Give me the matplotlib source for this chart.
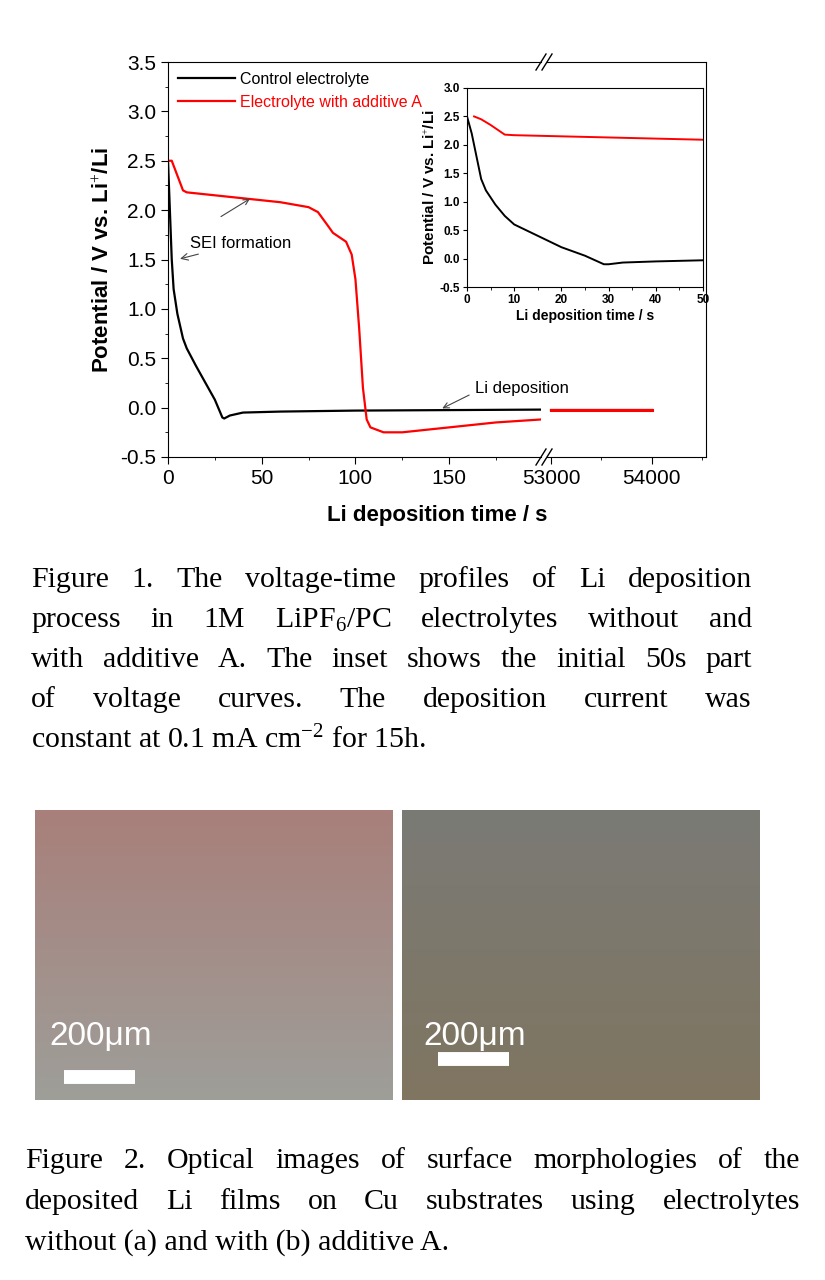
import matplotlib
matplotlib.use("Agg")
import matplotlib.pyplot as plt
import numpy as np

plt.rcParams['font.family'] = ['Liberation Sans', 'DejaVu Sans']
plt.rcParams['mathtext.fontset'] = 'custom'
plt.rcParams['mathtext.rm'] = 'Liberation Serif'
plt.rcParams['mathtext.it'] = 'Liberation Serif:italic'

# main plot data (left segment 0-200 s)
t_ctrl = [0, 1, 2, 3, 5, 8, 10, 15, 20, 25, 29, 30, 33, 40, 60, 100, 150, 199]
v_ctrl = [2.5, 2.0, 1.5, 1.2, 0.95, 0.7, 0.6, 0.42, 0.25, 0.08, -0.1, -0.11, -0.08, -0.05, -0.04, -0.03, -0.025, -0.02]
t_add = [0, 2, 5, 8, 10, 30, 60, 75, 80, 85, 88, 95, 98, 100, 102, 104, 106, 108, 115, 125, 150, 175, 199]
v_add = [2.5, 2.5, 2.35, 2.2, 2.18, 2.14, 2.08, 2.03, 1.98, 1.85, 1.77, 1.68, 1.55, 1.3, 0.8, 0.2, -0.12, -0.2, -0.25, -0.25, -0.2, -0.15, -0.12]
# long-time segment
t_long = [53000, 54000]
v_ctrl_long = [-0.02, -0.02]
v_add_long = [-0.02, -0.02]
# inset data
ti_ctrl = [0, 1, 2, 3, 4, 6, 8, 10, 15, 20, 25, 29, 30, 33, 40, 50]
vi_ctrl = [2.5, 2.2, 1.8, 1.4, 1.2, 0.95, 0.75, 0.6, 0.4, 0.2, 0.05, -0.1, -0.1, -0.07, -0.05, -0.03]
ti_add = [1.5, 3, 5, 8, 10, 20, 30, 40, 50]
vi_add = [2.5, 2.45, 2.35, 2.18, 2.17, 2.15, 2.13, 2.11, 2.09]

W, H = 825, 1280
fig = plt.figure(figsize=(W / 100, H / 100), dpi=100)

def rect(x0, y0, x1, y1):
    return [x0 / W, 1 - y1 / H, (x1 - x0) / W, (y1 - y0) / H]

ax1 = fig.add_axes(rect(168, 62, 541, 457))
ax2 = fig.add_axes(rect(547, 62, 706, 457))
ax2.patch.set_visible(False)
ax1.plot(t_ctrl, v_ctrl, color='black', lw=1.6, label='Control electrolyte')
ax1.plot(t_add, v_add, color='red', lw=1.6, label='Electrolyte with additive A')
ax2.plot(t_long, v_ctrl_long, color='black', lw=1.6)
ax2.plot(t_long, v_add_long, color='red', lw=2.2)
ax1.set_xlim(0, 199)
ax2.set_xlim(52960, 54540)
for ax in (ax1, ax2):
    ax.set_ylim(-0.5, 3.5)
    ax.tick_params(labelsize=15, direction='out', length=5)
    ax.set_yticks(np.arange(-0.5, 3.6, 0.5))
    ax.set_yticks(np.arange(-0.5, 3.6, 0.25), minor=True)
ax1.set_xticks([0, 50, 100, 150])
ax1.set_xticks(np.arange(0, 200, 25), minor=True)
ax2.set_xticks([53000, 54000])
ax2.set_xticks([53500, 54500], minor=True)
ax1.spines['right'].set_visible(False)
ax2.spines['left'].set_visible(False)
ax2.tick_params(axis='y', which='both', left=False, labelleft=False)
ax1.set_yticklabels(['-0.5', '0.0', '0.5', '1.0', '1.5', '2.0', '2.5', '3.0', '3.5'])
# break marks
for x in (541, 547):
    for y in (62, 457):
        fig.lines.append(plt.Line2D([(x - 5) / W, (x + 5) / W], [1 - (y + 8) / H, 1 - (y - 8) / H],
                                    color='black', lw=1, transform=fig.transFigure))
ax1.set_ylabel('Potential / V vs. Li$^{+}$/Li', fontsize=16, fontweight='bold')
fig.text((168 + 706) / 2 / W, 1 - 515 / H, 'Li deposition time / s', fontsize=16,
         fontweight='bold', ha='center', va='center')
leg = ax1.legend(loc='upper left', frameon=False, fontsize=11.5, handlelength=3.6,
                 borderaxespad=0.2, handletextpad=0.3, labelspacing=0.5)
leg.get_texts()[1].set_color('red')

ax1.annotate('SEI formation', xy=(5, 1.5), xytext=(12, 1.62), fontsize=12,
             arrowprops=dict(arrowstyle='->', color='#444444', lw=0.8))
ax1.annotate('', xy=(45, 2.13), xytext=(27, 1.92),
             arrowprops=dict(arrowstyle='->', color='#444444', lw=0.8))
ax1.annotate('', xy=(145, -0.02), xytext=(162, 0.14),
             arrowprops=dict(arrowstyle='->', color='#444444', lw=0.8))
ax1.text(164, 0.15, 'Li deposition', fontsize=12, clip_on=False, zorder=10)

# inset
axi = fig.add_axes(rect(467, 88, 703, 287))
axi.plot(ti_ctrl, vi_ctrl, color='black', lw=1.4)
axi.plot(ti_add, vi_add, color='red', lw=1.4)
axi.set_xlim(0, 50)
axi.set_ylim(-0.5, 3.0)
axi.set_xticks(range(0, 51, 10))
axi.set_xticks(range(5, 50, 10), minor=True)
axi.set_yticks(np.arange(-0.5, 3.01, 0.5))
axi.set_yticklabels(['-0.5', '0.0', '0.5', '1.0', '1.5', '2.0', '2.5', '3.0'])
axi.tick_params(labelsize=8.5, length=3, pad=2)
for lab in axi.get_xticklabels() + axi.get_yticklabels():
    lab.set_fontweight('bold')
axi.set_xlabel('Li deposition time / s', fontsize=10, fontweight='bold', labelpad=2)
axi.set_ylabel('Potential / V vs. Li$^{+}$/Li', fontsize=11, fontweight='bold', labelpad=1)

# captions (justified)
serif = 'Liberation Serif'
fig.canvas.draw()
renderer = fig.canvas.get_renderer()

def justify(lines, x0, x1, y0, dy, size):
    for i, line in enumerate(lines):
        y = 1 - (y0 + i * dy) / H
        words = line.split(' ')
        if i == len(lines) - 1:
            fig.text(x0 / W, y, line, fontsize=size, family=serif, va='center')
            continue
        objs = [fig.text(0, y, w, fontsize=size, family=serif, va='center') for w in words]
        widths = [o.get_window_extent(renderer).width for o in objs]
        gap = (x1 - x0 - sum(widths)) / (len(words) - 1)
        x = x0
        for o, wd in zip(objs, widths):
            o.set_x(x / W)
            x += wd + gap

justify(['Figure 1. The voltage-time profiles of Li deposition',
         'process in 1M LiPF$_6$/PC electrolytes without and',
         'with additive A. The inset shows the initial 50s part',
         'of voltage curves. The deposition current was',
         'constant at 0.1 mA cm$^{-2}$ for 15h.'], 31, 752, 580, 40, 21.5)
justify(['Figure 2. Optical images of surface morphologies of the',
         'deposited Li films on Cu substrates using electrolytes',
         'without (a) and with (b) additive A.'], 25, 800, 1161, 41, 21.5)

# optical images (flat colour placeholders)
for (x0, x1, c0, c1) in [(35, 393, (0.66, 0.50, 0.48), (0.62, 0.62, 0.60)),
                         (402, 760, (0.48, 0.48, 0.46), (0.50, 0.46, 0.38))]:
    axp = fig.add_axes(rect(x0, 810, x1, 1100))
    g = np.linspace(0, 1, 50)[:, None, None]
    img = np.array(c0)[None, None, :] * (1 - g) + np.array(c1)[None, None, :] * g
    axp.imshow(img, aspect='auto', extent=[0, 1, 0, 1])
    axp.set_axis_off()
    axp.text(0.04 if x0 < 400 else 0.06, 0.22, '200μm', color='white', fontsize=24,
             transform=axp.transAxes, va='center')
    bx = 0.08 if x0 < 400 else 0.1
    axp.plot([bx, bx + 0.2], [0.08, 0.08] if x0 < 400 else [0.14, 0.14], color='white', lw=10,
             transform=axp.transAxes, solid_capstyle='butt')

fig.savefig('out.png', dpi=100)
